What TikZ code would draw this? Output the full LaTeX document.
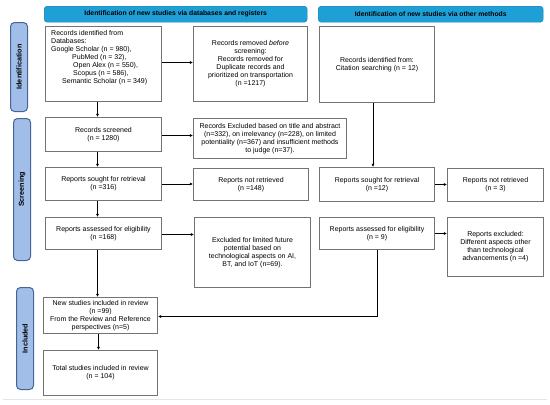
\documentclass[tikz,border=0pt]{standalone}
\usepackage{fontspec}
\setmainfont{Liberation Sans}
\usetikzlibrary{arrows.meta}
\definecolor{hdr}{RGB}{30,160,215}
\definecolor{sidefill}{RGB}{160,190,232}
\definecolor{sideline}{RGB}{70,100,150}
\definecolor{boxline}{RGB}{115,115,115}
\tikzset{
  box/.style={draw=boxline, line width=1pt, fill=white, inner sep=0pt, anchor=north west, align=center,
     font=\fontsize{7}{8}\selectfont},
  hdrbox/.style={fill=hdr, draw=hdr!80!black, line width=0.4pt, rounded corners=3pt, inner sep=0pt, anchor=north west,
     font=\fontsize{6.8}{7.5}\selectfont\bfseries, text=black},
  side/.style={fill=sidefill, draw=sideline, line width=1pt, rounded corners=4pt, inner sep=0pt, anchor=north west},
  sidetxt/.style={rotate=90, font=\fontsize{7.2}{8}\selectfont\bfseries, text=black},
  arr/.style={-{Latex[length=3.2pt,width=3pt]}, line width=0.5pt, black},
  ln/.style={line width=0.5pt, black}
}
\begin{document}
\begin{tikzpicture}[x=1pt,y=-1pt]
\useasboundingbox (0,0) rectangle (550,405);
% headers
\node[hdrbox, minimum width=263pt, minimum height=16pt] (h1) at (44,6) {Identification of new studies via databases and registers};
\node[hdrbox, minimum width=225pt, minimum height=16pt] (h2) at (318,6) {Identification of new studies via other methods};
% side labels
\node[side, minimum width=17pt, minimum height=89pt] (s1) at (10,22) {};
\node[sidetxt] (s1t) at (s1.center) {Identification};
\node[side, minimum width=17pt, minimum height=142pt] (s2) at (13,118) {};
\node[sidetxt] (s2t) at (s2.center) {Screening};
\node[side, minimum width=17pt, minimum height=102pt] (s3) at (16,287) {};
\node[sidetxt] (s3t) at (s3.center) {Included};
% identification row
\node[box, minimum width=116pt, minimum height=75pt] (b1) at (45,26) {};
\node[anchor=north west, inner sep=0pt, align=left, font=\fontsize{7}{8}\selectfont] (b1t) at (51,30.5)
 {Records identified from\\Databases:\\Google Scholar (n = 980),\\
  \hspace*{21pt}PubMed (n = 32),\\
  \hspace*{22pt}Open Alex (n = 550),\\
  \hspace*{22pt}Scopus (n = 586),\\
  \hspace*{11pt}Semantic Scholar (n = 349)};
\node[box, minimum width=114pt, minimum height=75pt] (rem) at (193,26)
 {Records removed \textit{before}\\screening:\\Records removed for\\Duplicate records and\\prioritized on transportation\\(n =1217)};
\node[box, minimum width=115pt, minimum height=76pt] (cit) at (319,26)
 {Records identified from:\\Citation searching (n = 12)};
% screening
\node[box, minimum width=116pt, minimum height=34pt] (scr) at (45,117)
 {Records screened\\(n = 1280)};
\node[box, minimum width=153pt, minimum height=40pt] (exc) at (193,118)
 {Records Excluded based on title and abstract\\(n=332), on irrelevancy (n=228), on limited\\potentiality (n=367) and insufficient methods\\to judge (n=37).};
\node[box, minimum width=116pt, minimum height=33pt] (soL) at (45,167)
 {Reports sought for retrieval\\(n =316)};
\node[box, minimum width=115pt, minimum height=32pt] (nrL) at (193,168)
 {Reports not retrieved\\(n =148)};
\node[box, minimum width=115pt, minimum height=34pt] (soR) at (319,167)
 {Reports sought for retrieval\\(n =12)};
\node[box, minimum width=96pt, minimum height=33pt] (nrR) at (447,168)
 {Reports not retrieved\\(n = 3)};
\node[box, minimum width=116pt, minimum height=32pt] (asL) at (45,217)
 {Reports assessed for eligibility\\(n =168)};
\node[box, minimum width=116pt, minimum height=70pt] (exL) at (194,217)
 {Excluded for limited future\\potential based on\\technological aspects on AI,\\BT, and IoT (n=69).};
\node[box, minimum width=115pt, minimum height=32pt] (asR) at (319,217)
 {Reports assessed for eligibility\\(n = 9)};
\node[box, minimum width=96pt, minimum height=59pt] (exR) at (447,217)
 {Reports excluded:\\Different aspects other\\than technological\\advancements (n =4)};
% included
\node[box, minimum width=114pt, minimum height=36pt] (nw) at (43,297)
 {New studies included in review\\(n =99)\\From the Review and Reference\\perspectives (n=5)};
\node[box, minimum width=114pt, minimum height=45pt] (tot) at (43,350)
 {Total studies included in review\\(n = 104)};
% connectors
\draw[arr] ([xshift=-6pt]b1.south) -- ([xshift=-6pt]b1.south |- scr.north);
\draw[arr] ([xshift=-6pt]scr.south) -- ([xshift=-6pt]scr.south |- soL.north);
\draw[arr] ([xshift=-6pt]soL.south) -- ([xshift=-6pt]soL.south |- asL.north);
\draw[arr] ([xshift=-6pt]asL.south) -- ([xshift=-6pt]asL.south |- nw.north);
\draw[arr] ([xshift=-2pt]nw.south) -- ([xshift=-2pt]nw.south |- tot.north);
\draw[arr] ([yshift=1.5pt]b1.east) -- ([yshift=1.5pt]b1.east -| rem.west);
\draw[arr] ([yshift=-1pt]scr.east) -- ([yshift=-1pt]scr.east -| exc.west);
\draw[arr] (soL.east) -- (soL.east -| nrL.west);
\draw[arr] ([yshift=-1pt]asL.east) -- ([yshift=-1pt]asL.east -| exL.west);
\draw[arr] ([xshift=-4pt]cit.south) -- ([xshift=-4pt]cit.south |- soR.north);
\draw[arr] (soR.east) -- (soR.east -| nrR.west);
\draw[arr] (asR.east) -- (asR.east -| exR.west);
\coordinate (bend) at ([yshift=-1pt]asR.south |- nw.east);
\draw[arr] (asR.south) -- (bend) -- (bend -| nw.east);
% faint bottom rule
\draw[black!10, line width=0.6pt] (3,399) -- (547,399);
\end{tikzpicture}
\end{document}
